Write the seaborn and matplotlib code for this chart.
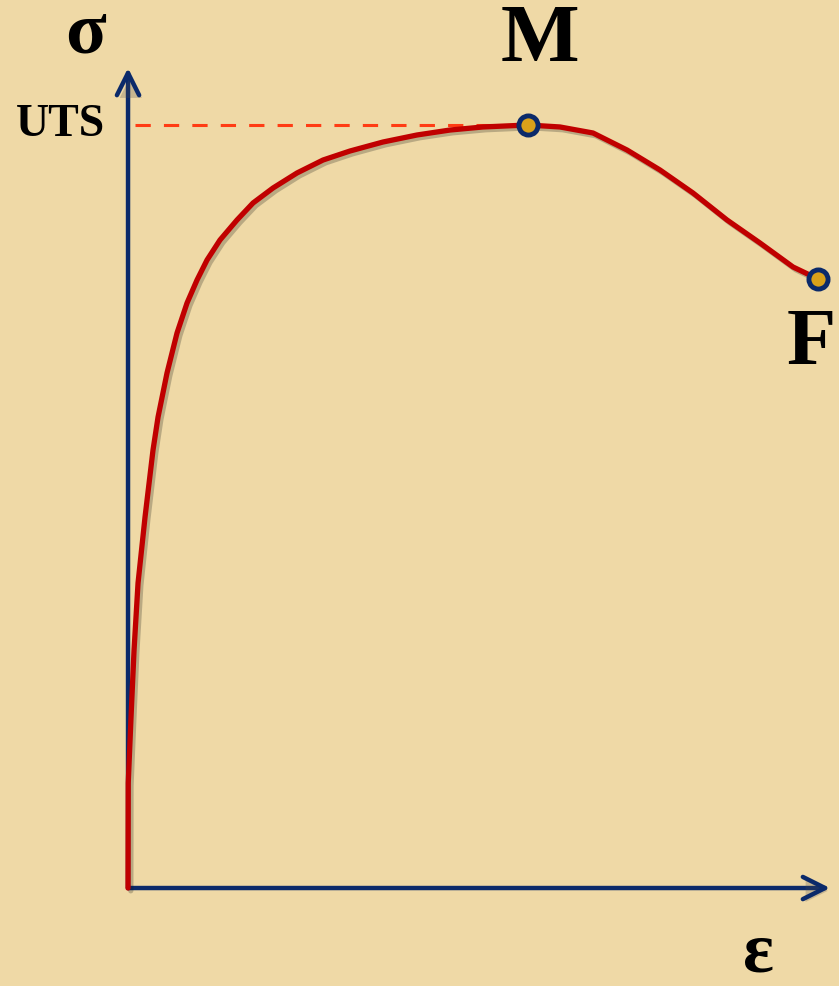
import matplotlib
matplotlib.use("Agg")
import matplotlib.pyplot as plt
import matplotlib.patheffects as pe
import pandas as pd
import seaborn as sns

# Engineering stress-strain curve (σ normalised by UTS, ε in arbitrary units)
strain = [0.0, 0.0003, 0.0043, 0.0086, 0.0143, 0.0243, 0.0357, 0.0429,
          0.0557, 0.07, 0.0843, 0.0986, 0.1129, 0.1314, 0.1557, 0.1786,
          0.2071, 0.2414, 0.2786, 0.3171, 0.3643, 0.4129, 0.46, 0.5071,
          0.5714, 0.6171, 0.6643, 0.7129, 0.76, 0.8071, 0.8557, 0.9029,
          0.95, 0.9857]
stress = [0.0, 0.1376, 0.2241, 0.3119, 0.3997, 0.4862, 0.5740, 0.6173,
          0.6750, 0.7274, 0.7667, 0.7969, 0.8231, 0.8493, 0.8755, 0.8978,
          0.9174, 0.9371, 0.9541, 0.9659, 0.9777, 0.9869, 0.9934, 0.9974,
          1.0, 0.9974, 0.9895, 0.9672, 0.9410, 0.9109, 0.8755, 0.8453,
          0.8139, 0.7982]

# Marked points: M = ultimate tensile strength, F = fracture
point_labels = ["M", "F"]
point_strain = [0.5714, 0.9857]
point_stress = [1.0, 0.7982]
uts = 1.0

curve = pd.DataFrame({"strain": strain, "stress": stress})
points = pd.DataFrame({"label": point_labels, "strain": point_strain,
                       "stress": point_stress})

sns.set_theme(style="white")
plt.rcParams["font.family"] = ["Liberation Serif", "DejaVu Serif"]

bg = "#EFD9A6"
navy = "#0B2A6A"
red = "#C00000"
fig = plt.figure(figsize=(8.39, 9.86), dpi=100)
fig.patch.set_facecolor(bg)
ax = fig.add_axes([0, 0, 1, 1])
ax.set_facecolor(bg)
ax.set_xlim(-0.1829, 1.0157)
ax.set_ylim(-0.1284, 1.1638)
ax.axis("off")

shadow = [pe.SimpleLineShadow(offset=(2, -2), shadow_color="k", alpha=0.25),
          pe.Normal()]

# Coordinate axes drawn as arrows
arrow_kw = dict(arrowstyle="->,head_length=0.8,head_width=0.4", lw=3.2,
                color=navy, shrinkA=0, shrinkB=0, mutation_scale=20,
                capstyle="round", joinstyle="round")
y_tip = ax.annotate("", xy=(0, 1.0747), xytext=(0, 0), arrowprops=arrow_kw,
                    zorder=2)
x_tip = ax.annotate("", xy=(1.0029, 0), xytext=(0, 0), arrowprops=arrow_kw,
                    zorder=2)
for a in (y_tip, x_tip):
    a.arrow_patch.set_path_effects([pe.SimplePatchShadow(offset=(2, -2),
                                                         alpha=0.25),
                                    pe.Normal()])

# UTS reference line
ax.plot([0.01, point_strain[0]], [uts, uts], color="#FF3C14", lw=2.2,
        dashes=(5, 4.3), zorder=2.5)

sns.lineplot(data=curve, x="strain", y="stress", sort=False, ax=ax,
             color=red, lw=3.8, zorder=3, path_effects=shadow,
             solid_joinstyle="round", solid_capstyle="round")

sns.scatterplot(data=points, x="strain", y="stress", ax=ax, s=190,
                color="#D9A11A", edgecolor=navy, linewidth=3.5, zorder=4)

txt = dict(fontweight="bold", color="black")
ax.text(-0.033, uts, "UTS", ha="right", va="center", fontsize=33, **txt)
ax.text(-0.0614, 1.118, "σ", ha="center", va="center", fontsize=54, **txt)
ax.text(0.9, -0.086, "ε", ha="center", va="center", fontsize=52, **txt)
ax.annotate(point_labels[0], (point_strain[0], point_stress[0]),
            xytext=(8.6, 60), textcoords="offset points",
            ha="center", va="center", fontsize=60, **txt)
ax.annotate(point_labels[1], (point_strain[1], point_stress[1]),
            xytext=(-5, -47.5), textcoords="offset points",
            ha="center", va="center", fontsize=58, **txt)

fig.savefig("out.png", dpi=100, facecolor=bg)
